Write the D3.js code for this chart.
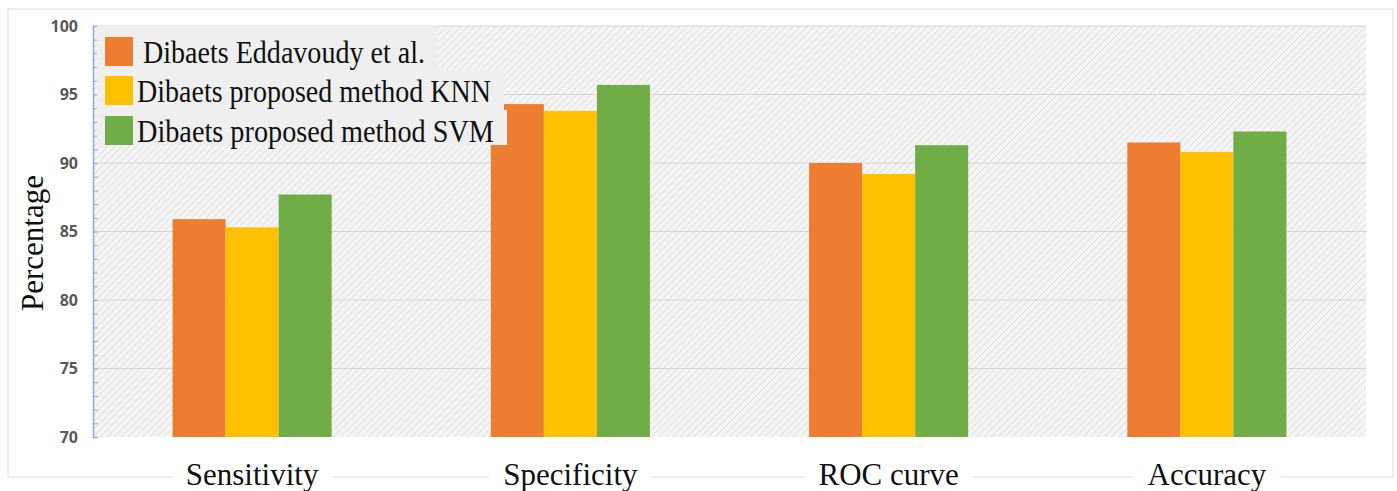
<!DOCTYPE html>
<html>
<head>
<meta charset="utf-8">
<script src="https://cdn.jsdelivr.net/npm/d3@7"></script>
<style>
  body{margin:0;background:#fff;}
  svg{display:block;}
</style>
</head>
<body>
<div id="chart"></div>
<script>
// values
var categories=["Sensitivity","Specificity","ROC curve","Accuracy"];
var seriesNames=["Dibaets Eddavoudy et al.","Dibaets proposed method KNN","Dibaets proposed method SVM"];
var seriesColors=["#ed7d31","#ffc000","#70ad47"];
var eddavoudy=[85.9,94.3,90.0,91.5];
var knn=[85.3,93.8,89.2,90.8];
var svm=[87.7,95.7,91.3,92.3];
var yTicks=[70,75,80,85,90,95,100];

var W=1397,H=491;
var m={top:26,right:31,bottom:54,left:93};
var width=W-m.left-m.right, height=H-m.top-m.bottom;
var serif="'Liberation Serif','Times New Roman',serif";

var svg=d3.select("#chart").append("svg").attr("width",W).attr("height",H);
var defs=svg.append("defs");
var pat=defs.append("pattern").attr("id","hatch").attr("patternUnits","userSpaceOnUse")
  .attr("width",5).attr("height",5).attr("patternTransform","rotate(45)");
pat.append("rect").attr("width",5).attr("height",5).attr("fill","#f5f5f5");
pat.append("line").attr("x1",0).attr("y1",0).attr("x2",0).attr("y2",5)
  .attr("stroke","#e0e0e0").attr("stroke-width",2);

// outer frame
svg.append("rect").attr("x",8).attr("y",9).attr("width",1385).attr("height",468)
  .attr("fill","none").attr("stroke","#dedede").attr("stroke-width",1);

// y title with white backing
var ytg=svg.append("g");
var yt=ytg.append("text").attr("transform","translate(43,243) rotate(-90)").attr("text-anchor","middle")
  .style("font-family",serif).style("font-size","31px").style("fill","#111").text("Percentage");
var yb=yt.node().getBBox();
ytg.insert("rect","text").attr("x",16).attr("y",243-yb.width/2-8).attr("width",yb.height+4).attr("height",yb.width+16)
  .attr("fill","#fff");

var g=svg.append("g").attr("transform","translate("+m.left+","+m.top+")");
g.append("rect").attr("width",width).attr("height",height).attr("fill","url(#hatch)");

var y=d3.scaleLinear().domain([70,100]).range([height,0]);
var x0=d3.scaleBand().domain(categories).range([0,width]).padding(0);
var x1=d3.scaleBand().domain(seriesNames).range([x0.bandwidth()*0.25,x0.bandwidth()*0.75]).padding(0);

// grid
g.append("g").selectAll("line").data(yTicks.slice(1)).join("line")
  .attr("x1",0).attr("x2",width).attr("y1",function(d){return y(d);}).attr("y2",function(d){return y(d);})
  .attr("stroke","#d6d6d6").attr("stroke-width",1);

// bars
var rows=categories.map(function(c,i){return {cat:c,vals:[eddavoudy[i],knn[i],svm[i]]};});
g.append("g").selectAll("g").data(rows).join("g")
  .attr("transform",function(d){return "translate("+x0(d.cat)+",0)";})
  .selectAll("rect").data(function(d){return d.vals.map(function(v,j){return {name:seriesNames[j],v:v,c:seriesColors[j]};});})
  .join("rect")
  .attr("x",function(d){return x1(d.name);}).attr("width",x1.bandwidth())
  .attr("y",function(d){return y(d.v);}).attr("height",function(d){return height-y(d.v);})
  .attr("fill",function(d){return d.c;});

// y axis: minor ticks inside, labels outside
var minor=g.append("g").call(d3.axisRight(y).ticks(30).tickSize(5).tickFormat(""));
minor.selectAll("line").attr("stroke","#8faadc");
minor.select(".domain").attr("stroke","#8faadc").attr("stroke-width",1.5);
var ya=g.append("g").call(d3.axisLeft(y).tickValues(yTicks).tickSize(0).tickPadding(15));
ya.select(".domain").remove();
ya.selectAll("text").style("font-family","'Open Sans',sans-serif").style("font-weight","bold")
  .style("font-size","16px").style("fill","#595959");

// category labels with white backing over the frame
var xl=svg.append("g");
categories.forEach(function(c){
  var cx=m.left+x0(c)+x0.bandwidth()/2;
  var t=xl.append("text").attr("x",cx).attr("y",485).attr("text-anchor","middle")
    .style("font-family",serif).style("font-size","31px").style("fill","#111").text(c);
  var b=t.node().getBBox();
  xl.insert("rect","text").attr("x",b.x-14).attr("y",b.y).attr("width",b.width+28).attr("height",b.height).attr("fill","#fff");
});

// legend drawn over plot (covers top of a bar as in the original)
var leg=g.append("g").attr("transform","translate(4,0)");
var rowTop=[0,44,84], rowH=[44,40,35];
var textW=[282,354,357];
seriesNames.forEach(function(n,i){
  var row=leg.append("g");
  var bg=row.append("rect").attr("x",0).attr("y",rowTop[i]).attr("height",rowH[i]).attr("fill","#efefef");
  row.append("rect").attr("x",8).attr("y",[11,50,90][i]).attr("width",28).attr("height",29).attr("fill",seriesColors[i]);
  var t=row.append("text").attr("x",i===0?46:40).attr("y",[37,76,116][i])
    .attr("textLength",textW[i]).attr("lengthAdjust","spacingAndGlyphs")
    .style("font-family",serif).style("font-size","31px").style("fill","#111").text(n);
  var b=t.node().getBBox();
  bg.attr("width",(i===0?46:40)+textW[i]+13);
});
</script>
</body>
</html>
